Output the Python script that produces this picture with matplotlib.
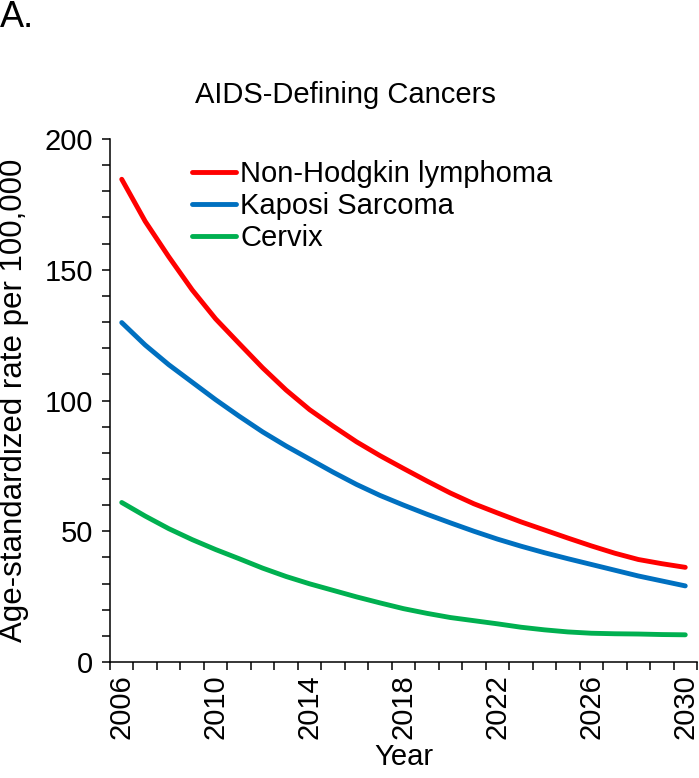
import numpy as np
import matplotlib
matplotlib.use('Agg')
import matplotlib.pyplot as plt
from matplotlib.ticker import MultipleLocator, FixedLocator

plt.rcParams['font.family'] = ['Liberation Sans', 'DejaVu Sans']

# 数据
years = list(range(2006, 2031))
nhl = [184.6, 168.5, 155.0, 142.3, 131.2, 121.8, 112.5, 104.0, 96.5, 90.2,
       84.2, 78.9, 74.0, 69.2, 64.6, 60.5, 57.0, 53.6, 50.5, 47.4,
       44.4, 41.6, 39.2, 37.6, 36.2]
kaposi = [129.8, 121.2, 113.7, 107.0, 100.3, 94.0, 88.0, 82.6, 77.6, 72.6,
          67.9, 63.7, 60.0, 56.5, 53.2, 50.0, 47.0, 44.3, 41.8, 39.5,
          37.3, 35.1, 32.9, 31.0, 29.1]
cervix = [61.0, 55.8, 51.0, 46.8, 43.0, 39.5, 35.9, 32.7, 29.9, 27.4,
          24.9, 22.6, 20.4, 18.6, 17.0, 15.8, 14.6, 13.3, 12.3, 11.5,
          11.0, 10.8, 10.7, 10.5, 10.4]
series_names = ['Non-Hodgkin lymphoma', 'Kaposi Sarcoma', 'Cervix']
series_colors = ['#FF0000', '#0070C0', '#00B050']
label_years = [2006, 2010, 2014, 2018, 2022, 2026, 2030]

W, H = 699, 778
fig = plt.figure(figsize=(W / 100, H / 100), dpi=100)
ax = fig.add_axes([110 / W, 1 - 662 / H, 587 / W, 523 / H])

for vals, name, col in zip([nhl, kaposi, cervix], series_names, series_colors):
    ax.plot(years, vals, color=col, linewidth=3.5, label=name,
            solid_capstyle='round', solid_joinstyle='round')

ax.set_xlim(2005.5, 2030.5)
ax.set_ylim(0, 200)

# y轴刻度
ax.yaxis.set_major_locator(MultipleLocator(50))
ax.yaxis.set_minor_locator(MultipleLocator(10))
ax.tick_params(axis='y', which='both', direction='out', length=6, width=1.1)
ax.tick_params(axis='y', which='major', labelsize=21, pad=6)

# x轴：类别边界刻度，标签在类别中心
ax.xaxis.set_major_locator(FixedLocator(label_years))
ax.xaxis.set_minor_locator(FixedLocator(np.arange(2005.5, 2031, 1.0)))
ax.tick_params(axis='x', which='major', length=0, labelsize=21, pad=9, labelrotation=90)
ax.tick_params(axis='x', which='minor', direction='out', length=6, width=1.1)

for s in ['top', 'right']:
    ax.spines[s].set_visible(False)
for s in ['left', 'bottom']:
    ax.spines[s].set_linewidth(1.1)

ax.legend(loc='upper left', bbox_to_anchor=(192 / W, 1 - 160 / H),
          bbox_transform=fig.transFigure, frameon=False, fontsize=21,
          handlelength=1.5, handletextpad=0.15, labelspacing=0.14,
          borderpad=0, borderaxespad=0)

fig.text(195 / W, 1 - 103 / H, 'AIDS-Defining Cancers', fontsize=21,
         ha='left', va='baseline')
fig.text(0.0, 1 - 27 / H, 'A.', fontsize=26, ha='left', va='baseline')
fig.text(14 / W, 1 - 400 / H, 'Age-standardized rate per 100,000', fontsize=22.5,
         rotation=90, ha='center', va='center')
fig.text(404 / W, 1 - 757 / H, 'Year', fontsize=21, ha='center', va='center')

fig.savefig('out.png', dpi=100)
